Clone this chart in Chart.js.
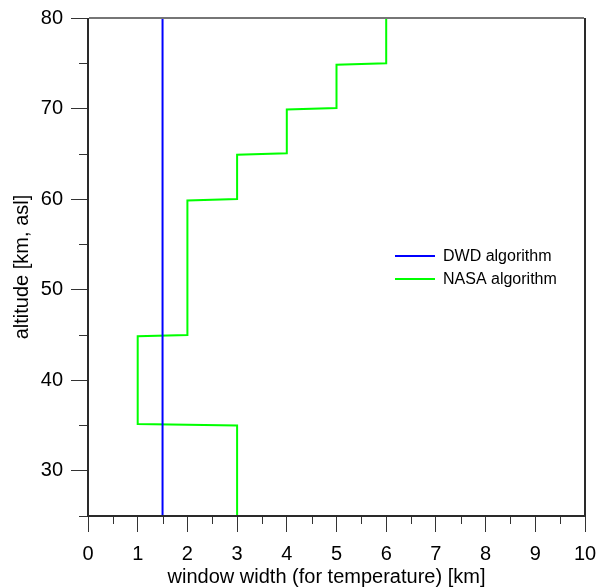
<!DOCTYPE html>
<html>
<head>
<meta charset="utf-8">
<script src="https://cdn.jsdelivr.net/npm/chart.js@4"></script>
<style>
  html, body { margin: 0; padding: 0; background: #fff; }
  #wrap { width: 599px; height: 587px; }
</style>
</head>
<body>
<div id="wrap"><canvas id="c" width="599" height="587"></canvas></div>
<script>
const seriesNames = ['DWD algorithm', 'NASA algorithm'];
const dwdWidth = [1.5, 1.5];
const dwdAlt = [25, 80];
const nasaWidth = [3, 3, 1, 1, 2, 2, 3, 3, 4, 4, 5, 5, 6, 6];
const nasaAlt = [25, 35, 35.15, 44.85, 45, 59.85, 60, 64.9, 65.05, 69.9, 70.05, 74.85, 75, 80];
const xMajorTicks = [0, 1, 2, 3, 4, 5, 6, 7, 8, 9, 10];
const xMinorTicks = [0.5, 1.5, 2.5, 3.5, 4.5, 5.5, 6.5, 7.5, 8.5, 9.5];
const yMajorTicks = [30, 40, 50, 60, 70, 80];
const yMinorTicks = [25, 35, 45, 55, 65, 75];
const xTitle = 'window width (for temperature) [km]';
const yTitle = 'altitude [km, asl]';

const FONT = "'Liberation Sans', Arial, sans-serif";
const toPts = (xs, ys) => xs.map((x, i) => ({ x: x, y: ys[i] }));

const framePlugin = {
  id: 'frame',
  afterDraw(chart) {
    const ctx = chart.ctx;
    const a = chart.chartArea;
    const xs = chart.scales.x, ys = chart.scales.y;
    ctx.save();
    // minor ticks
    ctx.strokeStyle = '#333';
    ctx.lineWidth = 1;
    ctx.beginPath();
    xMinorTicks.forEach(v => {
      const px = Math.round(xs.getPixelForValue(v)) + 0.5;
      ctx.moveTo(px, a.bottom);
      ctx.lineTo(px, a.bottom + 8);
    });
    yMinorTicks.forEach(v => {
      const py = Math.round(ys.getPixelForValue(v)) + 0.5;
      ctx.moveTo(a.left, py);
      ctx.lineTo(a.left - 9, py);
    });
    ctx.stroke();
    // frame
    ctx.lineWidth = 2;
    ctx.strokeStyle = '#2a2a2a';
    ctx.beginPath();
    ctx.moveTo(a.left, a.top);
    ctx.lineTo(a.left, a.bottom);
    ctx.lineTo(a.right, a.bottom);
    ctx.lineTo(a.right, a.top);
    ctx.stroke();
    ctx.strokeStyle = '#767676';
    ctx.beginPath();
    ctx.moveTo(a.left + 1, a.top);
    ctx.lineTo(a.right - 1, a.top);
    ctx.stroke();
    // x title
    ctx.fillStyle = '#000';
    ctx.font = '20px ' + FONT;
    ctx.textAlign = 'center';
    ctx.textBaseline = 'alphabetic';
    ctx.fillText(xTitle, (a.left + a.right) / 2 - 10, 583);
    // legend
    ctx.font = '16px ' + FONT;
    ctx.textAlign = 'left';
    ctx.textBaseline = 'middle';
    chart.data.datasets.forEach((ds, i) => {
      const y = 256 + i * 23;
      ctx.strokeStyle = ds.borderColor;
      ctx.lineWidth = 2;
      ctx.beginPath();
      ctx.moveTo(395, y);
      ctx.lineTo(435, y);
      ctx.stroke();
      ctx.fillStyle = '#000';
      ctx.fillText(ds.label, 443, y + 1);
    });
    ctx.restore();
  }
};

new Chart(document.getElementById('c'), {
  type: 'scatter',
  data: {
    datasets: [
      { label: seriesNames[0], data: toPts(dwdWidth, dwdAlt), showLine: true, borderColor: '#0000ff', borderWidth: 2, pointRadius: 0, tension: 0 },
      { label: seriesNames[1], data: toPts(nasaWidth, nasaAlt), showLine: true, borderColor: '#00ff00', borderWidth: 2, pointRadius: 0, tension: 0 }
    ]
  },
  options: {
    responsive: false,
    animation: false,
    devicePixelRatio: 1,
    layout: { padding: { top: 18, right: 14, left: 0, bottom: 0 } },
    plugins: { legend: { display: false }, tooltip: { enabled: false } },
    scales: {
      x: {
        type: 'linear', min: 0, max: 10,
        afterBuildTicks: s => { s.ticks = xMajorTicks.map(v => ({ value: v })); },
        afterFit: s => { s.height = 71; s.paddingLeft = 0; s.paddingRight = 0; },
        grid: { drawOnChartArea: false, drawTicks: true, tickLength: 16, color: '#333', lineWidth: 1 },
        border: { display: false },
        ticks: { color: '#000', font: { family: FONT, size: 20 }, padding: 10, maxRotation: 0, autoSkip: false },
        title: { display: false }
      },
      y: {
        type: 'linear', min: 25, max: 80,
        afterBuildTicks: s => { s.ticks = yMajorTicks.map(v => ({ value: v })); },
        afterFit: s => { s.width = 88; s.paddingTop = 0; s.paddingBottom = 0; },
        grid: { drawOnChartArea: false, drawTicks: true, tickLength: 17, color: '#333', lineWidth: 1 },
        border: { display: false },
        ticks: { color: '#000', font: { family: FONT, size: 20 }, padding: 8, autoSkip: false },
        title: { display: true, text: yTitle, color: '#000', font: { family: FONT, size: 20 }, padding: { top: 10, bottom: 0 } }
      }
    }
  },
  plugins: [framePlugin]
});
</script>
</body>
</html>
